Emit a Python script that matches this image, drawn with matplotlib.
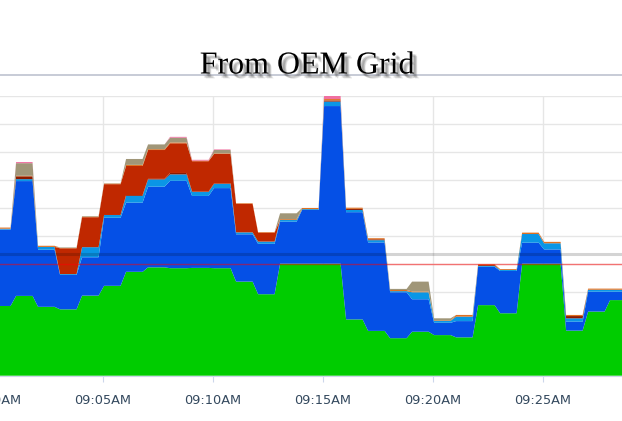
import numpy as np
import matplotlib.pyplot as plt
import matplotlib.patheffects as pe
from matplotlib.lines import Line2D

# one block per minute after 09:00
minutes = list(range(0, 29))
green = [2.49, 2.85, 2.46, 2.37, 2.86, 3.21, 3.71, 3.87, 3.84, 3.85, 3.84, 3.36, 2.91, 4.00, 4.00,
         4.00, 2.01, 1.60, 1.34, 1.57, 1.45, 1.37, 2.52, 2.23, 4.00, 4.00, 1.61, 2.29, 2.70]
blue = [2.73, 4.10, 2.04, 1.23, 1.37, 2.43, 2.47, 2.88, 3.12, 2.57, 2.86, 1.69, 1.80, 1.50, 1.92,
        5.63, 3.83, 3.16, 1.64, 1.16, 0.44, 0.58, 1.37, 1.51, 0.75, 0.51, 0.32, 0.71, 0.30]
light_blue = [0.03, 0.07, 0.10, 0.03, 0.36, 0.10, 0.24, 0.26, 0.23, 0.14, 0.15, 0.07, 0.08, 0.06, 0.03,
              0.16, 0.08, 0.08, 0.04, 0.25, 0.07, 0.16, 0.03, 0.04, 0.31, 0.22, 0.12, 0.07, 0.07]
dark_red = [0, 0.10, 0, 0, 0, 0, 0.03, 0.02, 0.05, 0.02, 0.02, 0, 0, 0, 0,
            0.04, 0.04, 0.03, 0, 0, 0, 0, 0.03, 0, 0, 0, 0.08, 0, 0]
red = [0, 0, 0, 0.92, 1.07, 1.10, 1.04, 1.03, 1.06, 1.08, 1.05, 1.02, 0.32, 0, 0,
       0, 0, 0, 0, 0, 0, 0, 0, 0, 0, 0, 0, 0, 0]
orange = [0.04, 0.02, 0.04, 0.01, 0.02, 0.02, 0.04, 0.03, 0.03, 0.02, 0.02, 0.02, 0.02, 0.03, 0.04,
          0.05, 0.04, 0.04, 0.04, 0.03, 0.02, 0.06, 0.03, 0.03, 0.05, 0.05, 0.04, 0.04, 0.04]
tan = [0, 0.45, 0, 0.02, 0.02, 0.01, 0.21, 0.17, 0.17, 0, 0.12, 0, 0, 0.21, 0,
       0, 0, 0, 0.04, 0.35, 0.07, 0, 0, 0, 0, 0, 0, 0, 0]
pink = [0, 0.04, 0, 0, 0, 0, 0, 0, 0.03, 0.03, 0.02, 0, 0, 0, 0,
        0.11, 0, 0, 0, 0, 0, 0, 0, 0, 0, 0, 0, 0, 0]

tick_minutes = [0, 5, 10, 15, 20, 25]
tick_labels = ["09:00AM", "09:05AM", "09:10AM", "09:15AM", "09:20AM", "09:25AM"]
limit_value = 4.0
avg_value = 4.36

layers = [green, blue, light_blue, dark_red, red, orange, tan, pink]
colors = ["#00cc00", "#0550e6", "#0a96e6", "#8b1a00", "#c02800", "#e07020", "#a09678", "#f070a0"]

# each minute is a flat block with a short ramp to the next one
xs = []
for m in minutes:
    xs += [m + 0.05 if m > 0 else -0.5, m + 0.8]
xs = np.array(xs)
ys = [np.repeat(layer, 2) for layer in layers]

fig = plt.figure(figsize=(6.22, 4.21), dpi=100)
ax = fig.add_axes([-10 / 622, 0.1076, 632 / 622, 0.6651])

ax.stackplot(xs, *ys, colors=colors, linewidth=0, zorder=2)

ax.axhline(avg_value, color="black", alpha=0.17, lw=2.2, zorder=3)
ax.axhline(limit_value, color="red", alpha=0.5, lw=1, zorder=4)

ax.set_xlim(28.59 - 632 / 622 * 28.27, 28.59)
ax.set_ylim(0, 10)
ax.set_yticks(range(0, 11))
ax.set_yticklabels([])
ax.tick_params(axis="y", length=0)
ax.set_xticks(tick_minutes)
ax.set_xticklabels(tick_labels, fontsize=9.3, color="#34495e", fontfamily="DejaVu Sans")
ax.tick_params(axis="x", length=4, color="#ccd6eb", pad=9)
ax.grid(True, color="#e6e6e6", lw=1, zorder=0)
ax.set_axisbelow(True)
for s in ["top", "left", "right"]:
    ax.spines[s].set_visible(False)
ax.spines["bottom"].set_color("#ccd6eb")

# title separator line and shadowed title
fig.add_artist(Line2D([0, 1], [1 - 74.5 / 421] * 2, transform=fig.transFigure,
                      color="#c3c7d3", lw=1.3))
shadow = []
for dx, dy in [(2.0, -2.0), (2.6, -2.6), (3.2, -3.2), (2.2, -3.0), (3.0, -2.2), (3.6, -3.6)]:
    shadow.append(pe.SimplePatchShadow(offset=(dx, dy), shadow_rgbFace="#555555", alpha=0.12))
fig.text(0.494, 1 - 73.5 / 421, "From OEM Grid", ha="center", va="baseline",
         fontsize=23, fontfamily="Liberation Serif", color="black",
         path_effects=shadow + [pe.Normal()], zorder=5)

fig.savefig("out.png", dpi=100)
